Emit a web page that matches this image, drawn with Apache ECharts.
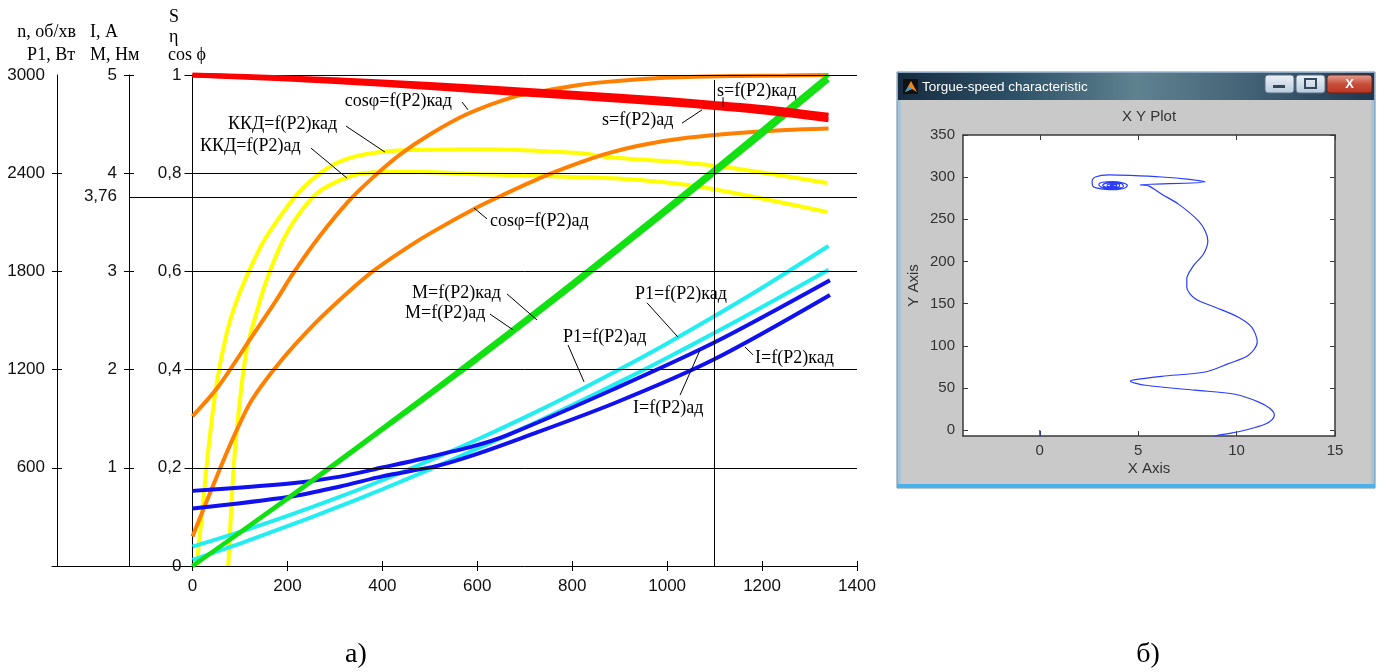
<!DOCTYPE html>
<html><head><meta charset="utf-8">
<script src="https://cdn.jsdelivr.net/npm/echarts@6.0.0/dist/echarts.min.js"></script>
<style>html,body{margin:0;padding:0;background:#fff}#c{width:1386px;height:672px}</style>
</head><body><div id="c"></div><script>
// ---------- panel a) : characteristics vs P2 (W) ----------
const xTicks = [0, 200, 400, 600, 800, 1000, 1200, 1400];
const etaTicks = [0, 0.2, 0.4, 0.6, 0.8, 1];
const nTicks = [600, 1200, 1800, 2400, 3000];
const iTicks = [1, 2, 3, 4, 5];
const iLabels = [1, 2, 3, 3.76, 4, 5];
const iMarked = 3.76;
const ratedP2 = 1100;

// s = f(P2)
const sP = [0, 200, 400, 600, 800, 1000, 1100, 1200, 1340];
const sKad = [1.0, 0.994, 0.986, 0.975, 0.963, 0.95, 0.942, 0.934, 0.918];
const sAd  = [1.0, 0.992, 0.981, 0.968, 0.955, 0.942, 0.934, 0.925, 0.909];
// cos phi = f(P2)
const cosKadP = [0, 54, 125, 177, 212, 265, 328, 381, 437, 500, 580, 675, 732, 817, 873, 950, 1042, 1150, 1250, 1340];
const cosKad  = [0.305, 0.365, 0.467, 0.542, 0.596, 0.668, 0.742, 0.792, 0.838, 0.879, 0.921, 0.955, 0.966, 0.980, 0.986, 0.992, 0.996, 0.998, 0.999, 1.0];
const cosAdP = [0, 54, 90, 125, 184, 258, 325, 381, 458, 507, 599, 648, 739, 817, 873, 950, 1042, 1150, 1250, 1340];
const cosAd  = [0.06, 0.189, 0.27, 0.338, 0.415, 0.494, 0.555, 0.601, 0.652, 0.681, 0.730, 0.753, 0.793, 0.822, 0.840, 0.858, 0.872, 0.882, 0.888, 0.891];
// KKD (efficiency) = f(P2)
const effKadP = [8.8, 19.4, 33.3, 51, 72, 93, 121, 149, 184, 220, 262, 311, 374, 458, 606, 817, 873, 1084, 1337];
const effKad  = [0, 0.10, 0.236, 0.372, 0.474, 0.54, 0.605, 0.66, 0.711, 0.757, 0.795, 0.824, 0.840, 0.847, 0.849, 0.841, 0.833, 0.817, 0.78];
const effAdP = [75.4, 82.6, 89.5, 100, 114, 136, 156, 191, 220, 262, 311, 360, 458, 606, 817, 943, 1084, 1337];
const effAd  = [0, 0.134, 0.236, 0.338, 0.44, 0.52, 0.582, 0.664, 0.711, 0.759, 0.786, 0.80, 0.803, 0.798, 0.792, 0.786, 0.770, 0.721];
// M = f(P2), N·m
const mP = [0, 100, 200, 300, 400, 500, 600, 700, 800, 900, 1000, 1100, 1200, 1340];
const mAd  = [0, 0.344, 0.692, 1.045, 1.403, 1.766, 2.134, 2.506, 2.884, 3.266, 3.653, 4.044, 4.441, 5.0];
const mKad = [0, 0.338, 0.682, 1.03, 1.385, 1.74, 2.10, 2.47, 2.845, 3.225, 3.61, 4.0, 4.39, 4.95];
// I = f(P2), A
const iAdP = [0, 205, 311, 402, 486, 592, 662, 887, 1097, 1343];
const iAd  = [0.765, 0.84, 0.91, 1.005, 1.095, 1.22, 1.33, 1.80, 2.27, 2.91];
const iKadP = [0, 205, 311, 402, 515, 592, 683, 887, 1097, 1343];
const iKad  = [0.585, 0.705, 0.81, 0.915, 1.02, 1.13, 1.285, 1.655, 2.1, 2.76];
// P1 = f(P2), W
const p1P = [0, 100, 200, 300, 400, 500, 600, 700, 800, 900, 1000, 1100, 1200, 1340];
const p1Ad  = [118, 208, 306, 411, 524, 645, 773, 908, 1051, 1202, 1360, 1527, 1700, 1955];
const p1Kad = [37, 137, 243, 353, 469, 590, 717, 847, 984, 1125, 1272, 1425, 1582, 1810];

// curve captions: text, text anchor [P2, value on 0..1 axis], leader from -> to
const notes = [
  ['cosφ=f(P2)кад', [321, 0.947], [567.8, 0.945], [580.5, 0.929]],
  ['ККД=f(P2)кад', [74.8, 0.900], [323.4, 0.896], [405.6, 0.843]],
  ['ККД=f(P2)ад', [15.8, 0.855], [249.7, 0.851], [325.6, 0.790]],
  ['cosφ=f(P2)ад', [626.8, 0.703], [620.5, 0.707], [593.1, 0.729]],
  ['s=f(P2)кад', [1105, 0.967], [1117.8, 0.955], [1117.8, 0.935]],
  ['s=f(P2)ад', [862.8, 0.908], [1031.4, 0.902], [1073.5, 0.929]],
  ['M=f(P2)кад', [462.5, 0.556], [662.7, 0.554], [725.9, 0.501]],
  ['M=f(P2)ад', [447.7, 0.515], [626.8, 0.513], [675.3, 0.481]],
  ['P1=f(P2)кад', [932.4, 0.554], [957.6, 0.536], [1022.9, 0.466]],
  ['P1=f(P2)ад', [780.7, 0.466], [791.2, 0.450], [824.9, 0.375]],
  ['I=f(P2)кад', [1185.2, 0.424], [1181, 0.430], [1164, 0.446]],
  ['I=f(P2)ад', [928.2, 0.322], [1027.2, 0.348], [1069.4, 0.440]]
];

// ---------- panel b) : torque-speed XY plot ----------
const xyXTicks = [0, 5, 10, 15];
const xyYTicks = [0, 50, 100, 150, 200, 250, 300, 350];
const torqueX = [0, 0, 8.6, 8.92, 9.5, 10.1, 10.94, 11.5, 11.78, 11.92, 11.7, 11.1, 9.92, 7.9, 5.37, 4.6, 4.85, 6.2, 8.4, 9.58, 10.6, 11.05, 10.77, 10.09, 8.91, 7.9, 7.47, 7.47, 7.81, 8.32, 8.54, 8.4, 8.06, 7.05, 6.2, 5.53, 5.1,
  8.4, 7.6, 6.2, 4.6, 3.5, 2.82, 2.66, 2.69, 2.91, 3.5,
  4.0, 4.35, 4.45, 4.2, 3.7, 3.2, 3.0, 3.1, 3.5, 4.0, 4.25, 4.15, 3.75, 3.35, 3.2, 3.35, 3.75, 4.05, 4.05, 3.75, 3.45, 3.42, 3.65, 3.9, 3.9, 3.72, 3.58, 3.68, 3.78, 3.75];
const speedY = [0, -12, -12, -7.1, -4.5, -2, 3.1, 7.5, 11.8, 17.7, 25.6, 33.5, 42.5, 47.3, 53.2, 58.3, 59.9, 63.8, 68.9, 78.8, 88.7, 104.4, 122.1, 133.9, 145.7, 155.7, 169.4, 179.3, 195, 208.9, 224.6, 236.4, 248.2, 268, 279.8, 289.6, 290.8,
  294.3, 297.3, 300.2, 302, 302.6, 300.2, 295.5, 289.6, 286.9, 285.2,
  285.6, 287.5, 290.3, 293.3, 294.8, 294, 291.5, 288.5, 286.6, 287, 289.3, 292.2, 293.4, 292.6, 290.3, 288.2, 287.8, 289.2, 291.3, 292.2, 291.3, 289.6, 288.7, 289.4, 290.7, 291.2, 290.4, 289.6, 289.9, 290.1];

const pair = (xs, ys) => xs.map((x, i) => [x, ys[i]]);
const SERIF = "'Liberation Serif','DejaVu Serif',serif";
const SANS = "'Liberation Sans',Arial,sans-serif";
const comma = v => String(v).replace('.', ',');
const plain = v => String(v);

function curve(name, xs, ys, color, yAxisIndex, width, z) {
  return { name, type: 'line', xAxisIndex: 0, yAxisIndex, data: pair(xs, ys), showSymbol: false,
    smooth: 0.3, z: z || 3, lineStyle: { color, width: width || 4 }, itemStyle: { color }, silent: true };
}
const tickLab = { color: '#111', fontFamily: SANS, fontSize: 17 };

const chart = echarts.init(document.getElementById('c'), null, { renderer: 'canvas' });
const option = {
  animation: false,
  backgroundColor: '#fff',
  grid: [
    { left: 192.5, top: 75, width: 664.5, height: 491 },
    { left: 52, top: 75, width: 140.5, height: 491 },
    { left: 129, top: 75, width: 728, height: 491 },
    { left: 963, top: 135, width: 372, height: 301, show: true, backgroundColor: '#fff', borderWidth: 0 }
  ],
  xAxis: [
    { gridIndex: 0, type: 'value', min: 0, max: 1400, position: 'bottom',
      axisLine: { onZero: false, lineStyle: { color: '#000', width: 1 } },
      axisTick: { customValues: xTicks, length: 5, lineStyle: { color: '#000' } },
      axisLabel: { customValues: xTicks, margin: 12, formatter: plain, ...tickLab }, splitLine: { show: false } },
    { gridIndex: 0, type: 'value', min: 0, max: 1400, position: 'top', offset: -491,
      axisLine: { show: false, onZero: false }, axisTick: { customValues: xTicks, length: 5, lineStyle: { color: '#000' } },
      axisLabel: { show: false }, splitLine: { show: false } },
    { gridIndex: 1, type: 'value', min: 0, max: 1, position: 'bottom',
      axisLine: { onZero: false, lineStyle: { color: '#000', width: 1 } }, axisTick: { show: false },
      axisLabel: { show: false }, splitLine: { show: false } },
    { gridIndex: 2, type: 'value', min: 0, max: 1, show: false, axisLine: { onZero: false } },
    { gridIndex: 3, type: 'value', min: -3.9, max: 15, position: 'bottom', name: 'X Axis', nameLocation: 'middle', nameGap: 25,
      nameTextStyle: { color: '#333', fontFamily: SANS, fontSize: 15 },
      axisLine: { onZero: false, lineStyle: { color: '#3a3a3a', width: 1.5 } },
      axisTick: { inside: true, customValues: xyXTicks, length: 5, lineStyle: { color: '#3a3a3a' } },
      axisLabel: { customValues: xyXTicks, margin: 7, formatter: plain, color: '#333', fontFamily: SANS, fontSize: 15 }, splitLine: { show: false } },
    { gridIndex: 3, type: 'value', min: -3.9, max: 15, position: 'top',
      axisLine: { onZero: false, lineStyle: { color: '#3a3a3a', width: 1.5 } },
      axisTick: { inside: true, customValues: xyXTicks, length: 5, lineStyle: { color: '#3a3a3a' } },
      axisLabel: { show: false }, splitLine: { show: false } }
  ],
  yAxis: [
    { gridIndex: 0, type: 'value', min: 0, max: 1, position: 'left',
      axisLine: { onZero: false, lineStyle: { color: '#000', width: 1 } },
      axisTick: { customValues: etaTicks, length: 8, lineStyle: { color: '#000' } },
      axisLabel: { customValues: etaTicks, margin: 11, formatter: comma, ...tickLab }, splitLine: { show: false } },
    { gridIndex: 0, type: 'value', min: 0, max: 5, show: false, axisLine: { onZero: false } },
    { gridIndex: 0, type: 'value', min: 0, max: 3000, show: false, axisLine: { onZero: false } },
    { gridIndex: 1, type: 'value', min: 0, max: 3000, position: 'left', offset: -5,
      axisLine: { onZero: false, lineStyle: { color: '#000', width: 1 } },
      axisTick: { customValues: nTicks.slice(0, 4), length: 5, lineStyle: { color: '#000' } },
      axisLabel: { customValues: nTicks, margin: 12, formatter: plain, ...tickLab }, splitLine: { show: false } },
    { gridIndex: 1, type: 'value', min: 0, max: 3000, position: 'right', offset: -135.5,
      axisLine: { show: false, onZero: false },
      axisTick: { customValues: nTicks.slice(0, 4), length: 5, lineStyle: { color: '#000' } },
      axisLabel: { show: false }, splitLine: { show: false } },
    { gridIndex: 2, type: 'value', min: 0, max: 5, position: 'left',
      axisLine: { onZero: false, lineStyle: { color: '#000', width: 1 } },
      axisTick: { customValues: iTicks, length: 5, lineStyle: { color: '#000' } },
      axisLabel: { customValues: iLabels, margin: 12, formatter: comma, ...tickLab }, splitLine: { show: false } },
    { gridIndex: 2, type: 'value', min: 0, max: 5, position: 'right', offset: -728,
      axisLine: { show: false, onZero: false },
      axisTick: { customValues: iTicks, length: 5, lineStyle: { color: '#000' } },
      axisLabel: { show: false }, splitLine: { show: false } },
    { gridIndex: 3, type: 'value', min: -7, max: 350, position: 'left', name: 'Y Axis', nameLocation: 'middle', nameGap: 42, nameRotate: 90,
      nameTextStyle: { color: '#333', fontFamily: SANS, fontSize: 15 },
      axisLine: { onZero: false, lineStyle: { color: '#3a3a3a', width: 1.5 } },
      axisTick: { inside: true, customValues: xyYTicks, length: 5, lineStyle: { color: '#3a3a3a' } },
      axisLabel: { customValues: xyYTicks, margin: 8, formatter: plain, color: '#333', fontFamily: SANS, fontSize: 15 }, splitLine: { show: false } },
    { gridIndex: 3, type: 'value', min: -7, max: 350, position: 'right',
      axisLine: { onZero: false, lineStyle: { color: '#3a3a3a', width: 1.5 } },
      axisTick: { inside: true, customValues: xyYTicks, length: 5, lineStyle: { color: '#3a3a3a' } },
      axisLabel: { show: false }, splitLine: { show: false } }
  ],
  series: [
    { type: 'line', xAxisIndex: 0, yAxisIndex: 0, data: [], z: 1, silent: true,
      markLine: { silent: true, symbol: ['none', 'none'], animation: false, label: { show: false },
        lineStyle: { color: '#000', width: 1, type: 'solid' },
        data: etaTicks.slice(1).map(v => [{ coord: [0, v] }, { coord: [1400, v] }])
          .concat([[{ coord: [ratedP2, 0] }, { coord: [ratedP2, 0.99] }]]) } },
    { type: 'line', xAxisIndex: 3, yAxisIndex: 5, data: [], z: 1, silent: true,
      markLine: { silent: true, symbol: ['none', 'none'], animation: false, label: { show: false },
        lineStyle: { color: '#000', width: 1, type: 'solid' },
        data: [[{ coord: [0, iMarked] }, { coord: [1, iMarked] }]] } },
    curve('ККД ад', effAdP, effAd, '#ffff00', 0),
    curve('ККД кад', effKadP, effKad, '#ffff00', 0),
    curve('cos ад', cosAdP, cosAd, '#ff8000', 0),
    curve('cos кад', cosKadP, cosKad, '#ff8000', 0),
    curve('P1 ад', p1P, p1Ad, '#22eef2', 2),
    curve('P1 кад', p1P, p1Kad, '#22eef2', 2),
    curve('I ад', iAdP, iAd, '#1010f0', 1),
    curve('I кад', iKadP, iKad, '#1010f0', 1),
    curve('M ад', mP, mAd, '#11e011', 1, 4, 4),
    curve('M кад', mP, mKad, '#11e011', 1, 4, 4),
    curve('s ад', sP, sAd, '#ff0000', 0, 5, 5),
    curve('s кад', sP, sKad, '#ff0000', 0, 5, 5),
    { type: 'line', xAxisIndex: 4, yAxisIndex: 7, data: pair(torqueX, speedY), showSymbol: false, smooth: 0.3, clip: true,
      lineStyle: { color: '#2a3cff', width: 1.2 }, z: 3, silent: true }
  ]
};
chart.setOption(option);

// ----- text, captions and the window frame -----
const px = d => chart.convertToPixel({ seriesIndex: 0 }, d);
const g = [];
// window frame of panel b)
g.push({ type: 'rect', shape: { x: 897, y: 72, width: 478, height: 416 }, style: { fill: '#a8c3da', stroke: '#6d8aa6', lineWidth: 1 }, z: -10 });
g.push({ type: 'rect', shape: { x: 897, y: 484, width: 478, height: 4 }, style: { fill: '#49b0ea' }, z: -9 });
g.push({ type: 'rect', shape: { x: 898, y: 73, width: 476, height: 27 }, z: -9,
  style: { fill: new echarts.graphic.LinearGradient(0, 0, 1, 0, [
    { offset: 0, color: '#162b40' }, { offset: 0.25, color: '#2e5268' }, { offset: 0.5, color: '#5f828f' },
    { offset: 0.7, color: '#48687a' }, { offset: 1, color: '#1f364c' }]) } });
g.push({ type: 'rect', shape: { x: 901, y: 100, width: 470, height: 384 }, style: { fill: '#c9c9c9' }, z: -8 });
g.push({ type: 'rect', shape: { x: 903, y: 79, width: 15, height: 15 }, style: { fill: '#111' }, z: -7 });
g.push({ type: 'polygon', shape: { points: [[905, 92], [911, 81], [917, 92], [912, 89]] }, style: { fill: '#f08a1c' }, z: -6 });
g.push({ type: 'polygon', shape: { points: [[905, 92], [909, 86], [912, 89]] }, style: { fill: '#3aa0d8' }, z: -6 });
g.push({ type: 'text', x: 922, y: 87, style: { text: 'Torgue-speed characteristic', fill: '#fff', font: '13.5px ' + SANS, textVerticalAlign: 'middle' }, z: -6 });
const btnGrad = () => new echarts.graphic.LinearGradient(0, 0, 0, 1, [{ offset: 0, color: '#eef3f8' }, { offset: 1, color: '#b9c9da' }]);
g.push({ type: 'rect', shape: { x: 1265, y: 75, width: 29, height: 18, r: 3 }, style: { fill: btnGrad(), stroke: '#566f88' }, z: -6 });
g.push({ type: 'rect', shape: { x: 1273, y: 85, width: 12, height: 3 }, style: { fill: '#34495e' }, z: -5 });
g.push({ type: 'rect', shape: { x: 1296, y: 75, width: 29, height: 18, r: 3 }, style: { fill: btnGrad(), stroke: '#566f88' }, z: -6 });
g.push({ type: 'rect', shape: { x: 1305, y: 79, width: 11, height: 9 }, style: { fill: 'none', stroke: '#34495e', lineWidth: 2 }, z: -5 });
g.push({ type: 'rect', shape: { x: 1327, y: 75, width: 45, height: 18, r: 3 }, z: -6,
  style: { fill: new echarts.graphic.LinearGradient(0, 0, 0, 1, [{ offset: 0, color: '#e7a394' }, { offset: 0.5, color: '#c9503c' }, { offset: 1, color: '#b8321f' }]), stroke: '#6d2418' } });
g.push({ type: 'text', x: 1349.5, y: 84, style: { text: 'X', fill: '#fff', font: 'bold 13px ' + SANS, textAlign: 'center', textVerticalAlign: 'middle' }, z: -5 });
g.push({ type: 'text', x: 1149, y: 117, style: { text: 'X Y Plot', fill: '#333', font: '15px ' + SANS, textAlign: 'center', textVerticalAlign: 'middle' } });
// axis headers of panel a)
const hdr = (t, x, y, align) => g.push({ type: 'text', x, y, style: { text: t, fill: '#000', font: '18px ' + SERIF, textAlign: align || 'left', textVerticalAlign: 'middle' } });
hdr('n, об/хв', 76, 32, 'right');
hdr('P1, Вт', 75, 55, 'right');
hdr('I, A', 90, 32);
hdr('M, Нм', 90, 55);
hdr('S', 169, 17);
hdr('η', 169, 37);
hdr('cos ϕ', 168, 55);
// captions and leaders
notes.forEach(([t, at, from, to]) => {
  const p = px(at), a = px(from), b = px(to);
  g.push({ type: 'text', x: p[0], y: p[1], z: 20, style: { text: t, fill: '#000', font: '18px ' + SERIF, textVerticalAlign: 'middle' } });
  g.push({ type: 'line', z: 20, shape: { x1: a[0], y1: a[1], x2: b[0], y2: b[1] }, style: { stroke: '#000', lineWidth: 1 } });
});
// panel letters
g.push({ type: 'text', x: 356, y: 655, style: { text: 'а)', fill: '#000', font: '28px ' + SERIF, textAlign: 'center', textVerticalAlign: 'middle' } });
g.push({ type: 'text', x: 1148, y: 655, style: { text: 'б)', fill: '#000', font: '28px ' + SERIF, textAlign: 'center', textVerticalAlign: 'middle' } });
chart.setOption({ graphic: { elements: g } });
</script></body></html>
